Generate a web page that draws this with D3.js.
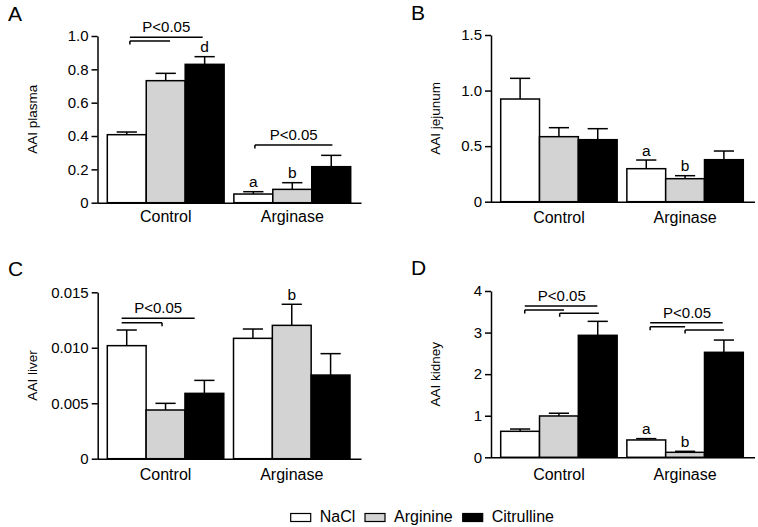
<!DOCTYPE html>
<html><head><meta charset="utf-8">
<script src="https://cdn.jsdelivr.net/npm/d3@7"></script>
<style>
html,body{margin:0;padding:0;background:#fff;}
svg{display:block;font-family:"Liberation Sans",Arial,sans-serif;}
</style></head>
<body>
<svg id="chart" width="758" height="527"></svg>
<script>
// ---------- data ----------
const categories = ["Control", "Arginase"];
const seriesNames = ["NaCl", "Arginine", "Citrulline"];
const seriesColors = ["#ffffff", "#d3d3d3", "#000000"];

const plasmaMean = [[0.408, 0.732, 0.830], [0.052, 0.080, 0.216]];
const plasmaSem  = [[0.016, 0.044, 0.046], [0.014, 0.040, 0.068]];
const plasmaTicks = [0, 0.2, 0.4, 0.6, 0.8, 1.0];

const jejunumMean = [[0.924, 0.585, 0.558], [0.297, 0.207, 0.378]];
const jejunumSem  = [[0.186, 0.081, 0.099], [0.078, 0.027, 0.078]];
const jejunumTicks = [0, 0.5, 1.0, 1.5];

const liverMean = [[0.01019, 0.00439, 0.00589], [0.01085, 0.01202, 0.00754]];
const liverSem  = [[0.00141, 0.00060, 0.00117], [0.00084, 0.00190, 0.00193]];
const liverTicks = [0, 0.005, 0.010, 0.015];

const kidneyMean = [[0.625, 0.994, 2.934], [0.417, 0.120, 2.525]];
const kidneySem  = [[0.055, 0.066, 0.336], [0.032, 0.024, 0.295]];
const kidneyTicks = [0, 1, 2, 3, 4];

// significance letters: [categoryIndex, seriesIndex, letter]
const plasmaLetters = [[0, 2, "d"], [1, 0, "a"], [1, 1, "b"]];
const jejunumLetters = [[1, 0, "a"], [1, 1, "b"]];
const liverLetters = [[1, 1, "b"]];
const kidneyLetters = [[1, 0, "a"], [1, 1, "b"]];

// brackets: category, label, segments [fromSeries, toSeries, value level, tick side]
const plasmaBrackets = [
  {cat: 0, label: "P<0.05", segs: [[0.08, 1.95, 0.992, null], [0.08, 1.11, 0.970, "left"]]},
  {cat: 1, label: "P<0.05", segs: [[0.04, 2.03, 0.346, "left"]]}
];
const jejunumBrackets = [];
const liverBrackets = [
  {cat: 0, label: "P<0.05", segs: [[-0.13, 1.75, 0.01266, null], [-0.13, 0.91, 0.01226, "right"]]}
];
const kidneyBrackets = [
  {cat: 0, label: "P<0.05", segs: [[0.12, 1.99, 3.64, null], [0.12, 1.13, 3.543, "left"], [1.02, 2.03, 3.464, "left"]]},
  {cat: 1, label: "P<0.05", segs: [[0.10, 1.97, 3.237, null], [0.10, 1.00, 3.141, "left"], [1.00, 2.00, 3.062, "left"]]}
];

// ---------- layout ----------
const panels = [
  {letter: "A", label: "AAI plasma", mean: plasmaMean, sem: plasmaSem, ticks: plasmaTicks,
   fmt: d => d === 0 ? "0" : d3.format(".1f")(d), letters: plasmaLetters, brackets: plasmaBrackets,
   axisX: 97.5, x0: 107.3, x1: 350.7, xEnd: 361.5, yTop: 36, yBot: 202.7, letterX: 8, letterY: 21,
   labelX: 37, catY: 222},
  {letter: "B", label: "AAI jejunum", mean: jejunumMean, sem: jejunumSem, ticks: jejunumTicks,
   fmt: d => d === 0 ? "0" : d3.format(".1f")(d), letters: jejunumLetters, brackets: jejunumBrackets,
   axisX: 491, x0: 500.7, x1: 743.3, xEnd: 755, yTop: 35, yBot: 201.7, letterX: 411, letterY: 20,
   labelX: 440, catY: 222.5},
  {letter: "C", label: "AAI liver", mean: liverMean, sem: liverSem, ticks: liverTicks,
   fmt: d => d === 0 ? "0" : d3.format(".3f")(d), letters: liverLetters, brackets: liverBrackets,
   axisX: 97.7, x0: 107.3, x1: 350, xEnd: 361.5, yTop: 292.3, yBot: 458.7, letterX: 8, letterY: 276,
   labelX: 37, catY: 480},
  {letter: "D", label: "AAI kidney", mean: kidneyMean, sem: kidneySem, ticks: kidneyTicks,
   fmt: d3.format("d"), letters: kidneyLetters, brackets: kidneyBrackets,
   axisX: 491, x0: 500.7, x1: 743.3, xEnd: 755, yTop: 291, yBot: 457.3, letterX: 411, letterY: 275,
   labelX: 440, catY: 479.5}
];

const svg = d3.select("#chart");

panels.forEach(p => {
  const g = svg.append("g");
  const ticks = p.ticks;
  const y = d3.scaleLinear().domain([0, ticks[ticks.length - 1]]).range([p.yBot, p.yTop]);
  const x = d3.scaleBand().domain(categories).range([p.x0, p.x1]).paddingInner(0.077).paddingOuter(0);
  const xs = d3.scaleBand().domain(d3.range(seriesNames.length)).range([0, x.bandwidth()]).padding(0);
  const bw = xs.bandwidth();
  const cx = (ci, s) => x(categories[ci]) + (s + 0.5) * bw;

  // panel letter
  g.append("text").attr("x", p.letterX).attr("y", p.letterY)
    .attr("font-size", 21).text(p.letter);

  // y axis
  const ax = g.append("g").attr("transform", `translate(${p.axisX},0)`)
    .call(d3.axisLeft(y).tickValues(ticks).tickFormat(p.fmt).tickSize(6).tickSizeOuter(0).tickPadding(3));
  ax.selectAll("path.domain").attr("stroke", "#000").attr("stroke-width", 1.5);
  ax.selectAll(".tick line").attr("stroke", "#000").attr("stroke-width", 1.5);
  ax.selectAll(".tick text").attr("font-size", 15).attr("fill", "#000")
    .attr("font-family", "Liberation Sans, Arial, sans-serif");

  // y label
  g.append("text")
    .attr("transform", `translate(${p.labelX},${(p.yTop + p.yBot) / 2}) rotate(-90)`)
    .attr("text-anchor", "middle").attr("font-size", 13.5).text(p.label);

  // bars
  categories.forEach((c, ci) => {
    seriesNames.forEach((s, si) => {
      const m = p.mean[ci][si], e = p.sem[ci][si];
      const bx = x(c) + xs(si);
      const bc = bx + bw / 2;
      // error bar (upward)
      g.append("line").attr("x1", bc).attr("x2", bc).attr("y1", y(m)).attr("y2", y(m + e))
        .attr("stroke", "#000").attr("stroke-width", 1.5);
      g.append("line").attr("x1", bc - bw * 0.26).attr("x2", bc + bw * 0.26)
        .attr("y1", y(m + e)).attr("y2", y(m + e))
        .attr("stroke", "#000").attr("stroke-width", 1.5);
      g.append("rect").attr("x", bx).attr("y", y(m)).attr("width", bw).attr("height", y(0) - y(m))
        .attr("fill", seriesColors[si]).attr("stroke", "#000").attr("stroke-width", 1.5);
    });
    // category label
    g.append("text").attr("x", x(c) + x.bandwidth() / 2).attr("y", p.catY)
      .attr("text-anchor", "middle").attr("font-size", 16).text(c);
  });

  // x axis baseline
  g.append("line").attr("x1", p.axisX).attr("x2", p.xEnd).attr("y1", y(0) + 0.5).attr("y2", y(0) + 0.5)
    .attr("stroke", "#000").attr("stroke-width", 1.5);

  // letters
  p.letters.forEach(([ci, si, t]) => {
    const top = y(p.mean[ci][si] + p.sem[ci][si]);
    g.append("text").attr("x", cx(ci, si)).attr("y", top - 4.5)
      .attr("text-anchor", "middle").attr("font-size", 15.5).text(t);
  });

  // brackets
  p.brackets.forEach(b => {
    const fx = f => x(categories[b.cat]) + (f + 0.5) * bw;
    let topY = Infinity, minX = Infinity, maxX = -Infinity;
    b.segs.forEach(([f0, f1, lv, tick]) => {
      const yy = y(lv), xa = fx(f0), xb = fx(f1);
      topY = Math.min(topY, yy); minX = Math.min(minX, xa); maxX = Math.max(maxX, xb);
      g.append("line").attr("x1", xa).attr("x2", xb).attr("y1", yy).attr("y2", yy)
        .attr("stroke", "#000").attr("stroke-width", 1.5);
      if (tick) {
        const tx = tick === "left" ? xa : xb;
        g.append("line").attr("x1", tx).attr("x2", tx).attr("y1", yy).attr("y2", yy + 3.5)
          .attr("stroke", "#000").attr("stroke-width", 1.5);
      }
    });
    g.append("text").attr("x", (minX + maxX) / 2).attr("y", topY - 5)
      .attr("text-anchor", "middle").attr("font-size", 15).text(b.label);
  });
});

// legend
const legX = [290.7, 365, 462.7];
const lg = svg.append("g");
seriesNames.forEach((s, i) => {
  lg.append("rect").attr("x", legX[i]).attr("y", 513.5).attr("width", 20).attr("height", 8)
    .attr("fill", seriesColors[i]).attr("stroke", "#000").attr("stroke-width", 1.2);
  lg.append("text").attr("x", legX[i] + 29).attr("y", 522).attr("font-size", 16).text(s);
});
</script>
</body></html>
